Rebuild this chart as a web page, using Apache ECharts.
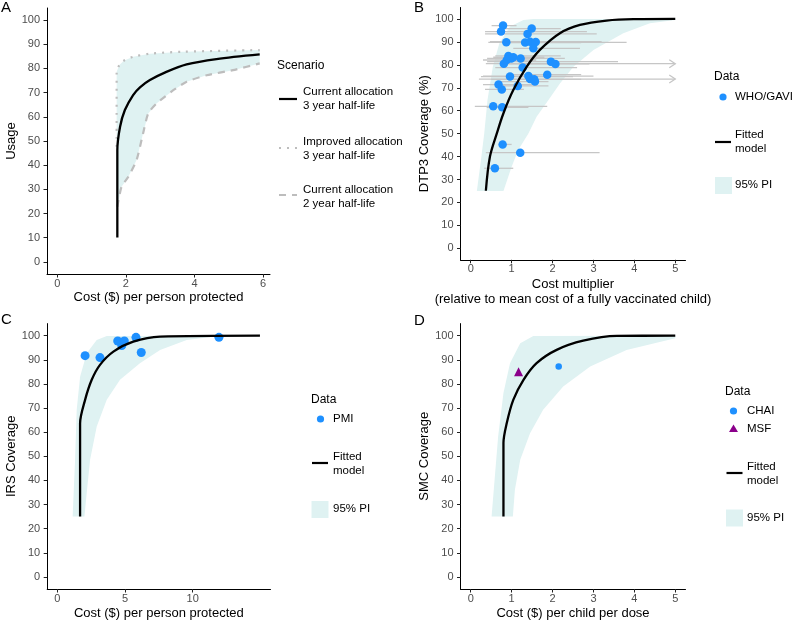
<!DOCTYPE html>
<html>
<head>
<meta charset="utf-8">
<script src="https://cdn.jsdelivr.net/npm/echarts@6/dist/echarts.min.js"></script>
<style>
html, body { margin: 0; padding: 0; background: #fff; }
#main { width: 798px; height: 622px; }
</style>
</head>
<body>
<div id="main"></div>
<script>
// ---- data ----
// A: usage vs cost
var aCurX = [1.75, 1.75, 1.83, 1.97, 2.21, 2.41, 2.70, 3.18, 3.77, 4.64, 5.90];
var aCurY = [10.1, 46.2, 55.9, 62.8, 69.0, 72.2, 75.2, 78.6, 81.7, 83.9, 85.8];
var aImpX = [1.73, 1.73, 1.81, 1.94, 2.21, 2.70, 3.67, 5.90];
var aImpY = [47.6, 78.6, 81.4, 83.2, 84.8, 86.1, 86.9, 87.6];
var a2yX = [1.75, 1.87, 2.07, 2.31, 2.50, 2.65, 2.89, 3.38, 3.77, 4.35, 5.12, 5.90];
var a2yY = [22.8, 31.0, 35.2, 42.1, 53.1, 61.4, 65.5, 71.0, 74.5, 77.2, 79.3, 82.1];
var aXTicks = [0, 2, 4, 6];

// B: DTP3 coverage vs cost multiplier
var bFitX = [0.37, 0.47, 0.64, 0.80, 1.04, 1.37, 1.69, 2.18, 2.67, 3.32, 3.98, 5.00];
var bFitY = [25.1, 40.0, 50.2, 58.9, 69.0, 79.2, 86.5, 93.8, 97.4, 99.3, 99.9, 100];
var bPiUpX = [0.15, 0.25, 0.33, 0.41, 0.54, 0.70, 0.96, 1.29, 1.53, 5.00];
var bPiUpY = [25.0, 38.5, 50.1, 64.7, 79.2, 89.4, 96.7, 99.6, 100, 100];
var bPiLoX = [0.80, 1.00, 1.16, 1.41, 1.61, 1.90, 2.18, 2.51, 3.00, 3.73, 4.38, 5.00];
var bPiLoY = [25.0, 35.6, 42.9, 50.1, 57.4, 64.7, 71.9, 79.2, 86.5, 93.8, 98.1, 99.6];
var bX  = [0.79, 0.74, 1.39, 1.49, 0.87, 1.33, 1.45, 1.59, 1.53, 0.92, 0.99, 0.88, 1.04, 0.81, 1.22, 1.27, 1.96, 2.07, 0.96, 1.41, 1.45, 1.55, 1.57, 1.87, 0.68, 0.76, 1.15, 0.55, 0.77, 0.78, 1.21, 0.59];
var bY  = [97.1, 94.5, 93.5, 95.8, 89.8, 89.7, 90.1, 90.0, 87.2, 83.9, 82.8, 82.1, 83.3, 80.5, 82.8, 78.8, 81.4, 80.4, 74.9, 75.1, 73.8, 73.7, 72.7, 75.7, 71.4, 69.3, 70.8, 61.9, 61.5, 45.3, 41.7, 34.9];
var bLo = [0.51, 0.35, 0.35, 0.75, 0.43, 0.90, 0.47, 1.00, 1.04, 0.60, 0.40, 0.30, 0.55, 0.37, 0.65, 0.60, 0.40, 0.80, 0.25, 0.30, 0.20, 0.50, 0.70, 0.90, 0.30, 0.35, 0.60, 0.10, 0.39, 0.68, 0.37, 0.33];
var bHi = [1.12, 2.84, 3.08, 2.20, 3.81, 2.70, 3.20, 2.20, 2.67, 2.20, 1.90, 1.60, 1.80, 5.00, 2.30, 2.60, 3.60, 2.90, 2.50, 3.00, 5.00, 2.70, 1.90, 2.70, 1.50, 1.30, 1.90, 1.87, 1.41, 1.00, 3.15, 1.04];
var bOpen = [0, 0, 0, 0, 0, 0, 0, 0, 0, 0, 0, 0, 0, 1, 0, 0, 0, 0, 0, 0, 1, 0, 0, 0, 0, 0, 0, 0, 0, 0, 0, 0];
var bXTicks = [0, 1, 2, 3, 4, 5];

// C: IRS coverage vs cost
var cFitX = [1.68, 1.68, 2.05, 2.54, 3.15, 4.14, 5.61, 7.59, 14.97];
var cFitY = [25.1, 63.7, 73.4, 81.7, 87.9, 93.4, 97.5, 99.6, 100];
var cPiUpX = [1.13, 1.31, 1.43, 1.68, 2.17, 2.91, 3.65, 14.97];
var cPiUpY = [25.0, 48.6, 69.3, 83.0, 92.7, 98.2, 99.9, 100];
var cPiLoX = [2.00, 2.17, 2.42, 2.91, 3.65, 4.63, 6.10, 7.59, 9.56, 11.5, 14.97];
var cPiLoY = [25.0, 34.8, 48.6, 62.3, 73.4, 81.7, 88.6, 94.1, 98.2, 99.6, 100];
var cPmiX = [2.05, 3.15, 4.46, 4.76, 4.95, 5.81, 6.20, 11.94];
var cPmiY = [91.7, 90.9, 97.8, 95.9, 97.8, 99.3, 93.0, 99.3];
var cXTicks = [0, 5, 10];

// D: SMC coverage vs cost per dose
var dFitX = [0.80, 0.80, 0.88, 1.04, 1.29, 1.61, 2.10, 2.75, 3.57, 5.00];
var dFitY = [25.0, 55.5, 63.7, 73.4, 81.7, 88.6, 94.1, 97.9, 99.9, 100];
var dPiUpX = [0.51, 0.59, 0.67, 0.80, 0.96, 1.21, 1.53, 5.00];
var dPiUpY = [25.0, 41.6, 58.2, 76.2, 88.6, 96.9, 99.9, 100];
var dPiLoX = [1.03, 1.08, 1.21, 1.45, 1.77, 2.26, 2.92, 3.81, 5.00];
var dPiLoY = [25.0, 36.1, 48.6, 59.6, 69.3, 78.9, 87.2, 94.1, 98.9];
var dChaiX = [2.15], dChaiY = [87.2];
var dMsfX = [1.17], dMsfY = [85.0];

var yTicks = [0, 10, 20, 30, 40, 50, 60, 70, 80, 90, 100];

// ---- styling ----
var FONT = '"Liberation Sans", Arial, sans-serif';
var RIB = '#dff2f2';
var BLUE = '#1e90ff';
var PURPLE = '#8b008b';
var GREY = '#bdbdbd';

function zip(xs, ys) {
    return xs.map(function (x, i) { return [x, ys[i]]; });
}

function xAx(gi, min, max, ticks, name, gap) {
    return {
        type: 'value', gridIndex: gi, min: min, max: max,
        name: name, nameLocation: 'middle', nameGap: gap,
        nameTextStyle: { color: '#000', fontSize: 13, fontFamily: FONT, lineHeight: 15 },
        axisLine: { onZero: false, lineStyle: { color: '#000', width: 1 } },
        axisTick: { customValues: ticks, length: 3.5, lineStyle: { color: '#222' } },
        axisLabel: { customValues: ticks, color: '#4d4d4d', fontSize: 11, margin: 4, fontFamily: FONT },
        splitLine: { show: false }
    };
}

function yAx(gi, name) {
    return {
        type: 'value', gridIndex: gi, min: -5, max: 105,
        name: name, nameLocation: 'middle', nameGap: 28,
        nameTextStyle: { color: '#000', fontSize: 13, fontFamily: FONT },
        axisLine: { onZero: false, lineStyle: { color: '#000', width: 1 } },
        axisTick: { customValues: yTicks, length: 3.5, lineStyle: { color: '#222' } },
        axisLabel: { customValues: yTicks, color: '#4d4d4d', fontSize: 11, margin: 7, fontFamily: FONT },
        splitLine: { show: false }
    };
}

// band between two curves, drawn as one polygon through the axes
function ribbon(gi, upX, upY, loX, loY) {
    return {
        type: 'custom', xAxisIndex: gi, yAxisIndex: gi, z: 1, silent: true,
        data: [[upX[0], upY[0]]],
        renderItem: function (params, api) {
            var pts = [];
            for (var i = 0; i < upX.length; i++) pts.push(api.coord([upX[i], upY[i]]));
            for (var j = loX.length - 1; j >= 0; j--) pts.push(api.coord([loX[j], loY[j]]));
            return { type: 'polygon', shape: { points: pts }, style: { fill: RIB } };
        }
    };
}

function curve(gi, xs, ys, color, width, dash, smooth) {
    return {
        type: 'line', xAxisIndex: gi, yAxisIndex: gi, z: 4, silent: true,
        data: zip(xs, ys), symbol: 'none', smooth: smooth || false,
        lineStyle: { color: color, width: width, type: dash || 'solid', cap: 'butt' }
    };
}

function points(gi, xs, ys, symbol, size, color) {
    return {
        type: 'scatter', xAxisIndex: gi, yAxisIndex: gi, z: 3, silent: true,
        data: zip(xs, ys), symbol: symbol, symbolSize: size,
        itemStyle: { color: color, opacity: 1 }
    };
}

// horizontal error bars for panel B (arrow where the interval runs off the axis)
var errBars = {
    type: 'custom', xAxisIndex: 1, yAxisIndex: 1, z: 2, silent: true,
    data: bLo.map(function (lo, i) { return [lo, bY[i], bHi[i], bOpen[i]]; }),
    renderItem: function (params, api) {
        var p1 = api.coord([api.value(0), api.value(1)]);
        var p2 = api.coord([api.value(2), api.value(1)]);
        var kids = [{
            type: 'line', shape: { x1: p1[0], y1: p1[1], x2: p2[0], y2: p2[1] },
            style: { stroke: '#c6c6c6', lineWidth: 1.3 }
        }];
        if (api.value(3)) {
            kids.push({
                type: 'polyline',
                shape: { points: [[p2[0] - 6, p2[1] - 4], [p2[0], p2[1]], [p2[0] - 6, p2[1] + 4]] },
                style: { stroke: '#c6c6c6', lineWidth: 1.3, fill: null }
            });
        }
        return { type: 'group', children: kids };
    }
};

// ---- legends & panel letters ----
function txt(x, y, s, size, color) {
    return { type: 'text', x: x, y: y, silent: true,
        style: { text: s, fill: color || '#000', fontSize: size, fontFamily: FONT,
                 verticalAlign: 'middle', align: 'left', lineHeight: 14 } };
}
function keyLine(x1, x2, y, color, dash) {
    return { type: 'line', silent: true, shape: { x1: x1, y1: y, x2: x2, y2: y },
        style: { stroke: color, lineWidth: 2.2, lineDash: dash || null } };
}
function keyBox(x, y) {
    return { type: 'rect', silent: true, shape: { x: x, y: y, width: 17, height: 17 }, style: { fill: RIB } };
}
function keyDot(cx, cy, r) {
    return { type: 'circle', silent: true, shape: { cx: cx, cy: cy, r: r }, style: { fill: BLUE } };
}

var graphics = [
    txt(1, 8, 'A', 15), txt(414, 8, 'B', 15), txt(1, 320, 'C', 15), txt(414, 321, 'D', 15),
    // A
    txt(277, 66, 'Scenario', 12),
    keyLine(279, 297, 99, '#000'), txt(303, 99, 'Current allocation\n3 year half-life', 11.5),
    keyLine(279, 297, 148, GREY, [2, 6]), txt(303, 149, 'Improved allocation\n3 year half-life', 11.5),
    keyLine(279, 297, 195, GREY, [7, 6]), txt(303, 197, 'Current allocation\n2 year half-life', 11.5),
    // B
    txt(714, 77, 'Data', 12),
    keyDot(723, 97, 3.6), txt(735, 97, 'WHO/GAVI', 11.5),
    keyLine(715, 731, 142, '#000'), txt(735, 142, 'Fitted\nmodel', 11.5),
    keyBox(715, 177), txt(735, 185, '95% PI', 11.5),
    // C
    txt(311, 400, 'Data', 12),
    keyDot(320.5, 419, 3.6), txt(333, 419, 'PMI', 11.5),
    keyLine(312, 328, 463, '#000'), txt(333, 464, 'Fitted\nmodel', 11.5),
    keyBox(311.5, 501), txt(333, 509, '95% PI', 11.5),
    // D
    txt(725, 392, 'Data', 12),
    keyDot(733.5, 411, 3.6), txt(747, 411, 'CHAI', 11.5),
    { type: 'polygon', silent: true, shape: { points: [[733.5, 424.5], [738, 432], [729, 432]] }, style: { fill: PURPLE } },
    txt(747, 428.5, 'MSF', 11.5),
    keyLine(726.5, 742.5, 473, '#000'), txt(747, 474, 'Fitted\nmodel', 11.5),
    keyBox(726, 509.5), txt(747, 518, '95% PI', 11.5)
];

var myChart = echarts.init(document.getElementById('main'), null, { renderer: 'canvas' });
var option = {
    animation: false,
    backgroundColor: '#fff',
    grid: [
        { left: 47, top: 8, width: 223, height: 266 },
        { left: 460.5, top: 7.5, width: 225, height: 252.3 },
        { left: 47.2, top: 323.6, width: 223.3, height: 265.8 },
        { left: 460.5, top: 323.6, width: 225, height: 265.8 }
    ],
    xAxis: [
        xAx(0, -0.3, 6.2, aXTicks, 'Cost ($) per person protected', 16),
        xAx(1, -0.25, 5.25, bXTicks, 'Cost multiplier\n(relative to mean cost of a fully vaccinated child)', 17),
        xAx(2, -0.75, 15.75, cXTicks, 'Cost ($) per person protected', 17),
        xAx(3, -0.25, 5.25, bXTicks, 'Cost ($) per child per dose', 17)
    ],
    yAxis: [
        yAx(0, 'Usage'),
        yAx(1, 'DTP3 Coverage (%)'),
        yAx(2, 'IRS Coverage'),
        yAx(3, 'SMC Coverage')
    ],
    graphic: graphics,
    series: [
        ribbon(0, aImpX, aImpY, a2yX, a2yY),
        curve(0, aImpX, aImpY, GREY, 2.2, [2, 6], 0.3),
        curve(0, a2yX, a2yY, GREY, 2.2, [7, 6], 0.2),
        curve(0, aCurX, aCurY, '#000', 2.3, null, 0.3),

        ribbon(1, bPiUpX, bPiUpY, bPiLoX, bPiLoY),
        errBars,
        points(1, bX, bY, 'circle', 8.5, BLUE),
        curve(1, bFitX, bFitY, '#000', 2.3, null, 0.35),

        ribbon(2, cPiUpX, cPiUpY, cPiLoX, cPiLoY),
        points(2, cPmiX, cPmiY, 'circle', 9, BLUE),
        curve(2, cFitX, cFitY, '#000', 2.3, null, 0.3),

        ribbon(3, dPiUpX, dPiUpY, dPiLoX, dPiLoY),
        points(3, dChaiX, dChaiY, 'circle', 6.5, BLUE),
        points(3, dMsfX, dMsfY, 'triangle', 9, PURPLE),
        curve(3, dFitX, dFitY, '#000', 2.3, null, 0.3)
    ]
};
myChart.setOption(option);
</script>
</body>
</html>
